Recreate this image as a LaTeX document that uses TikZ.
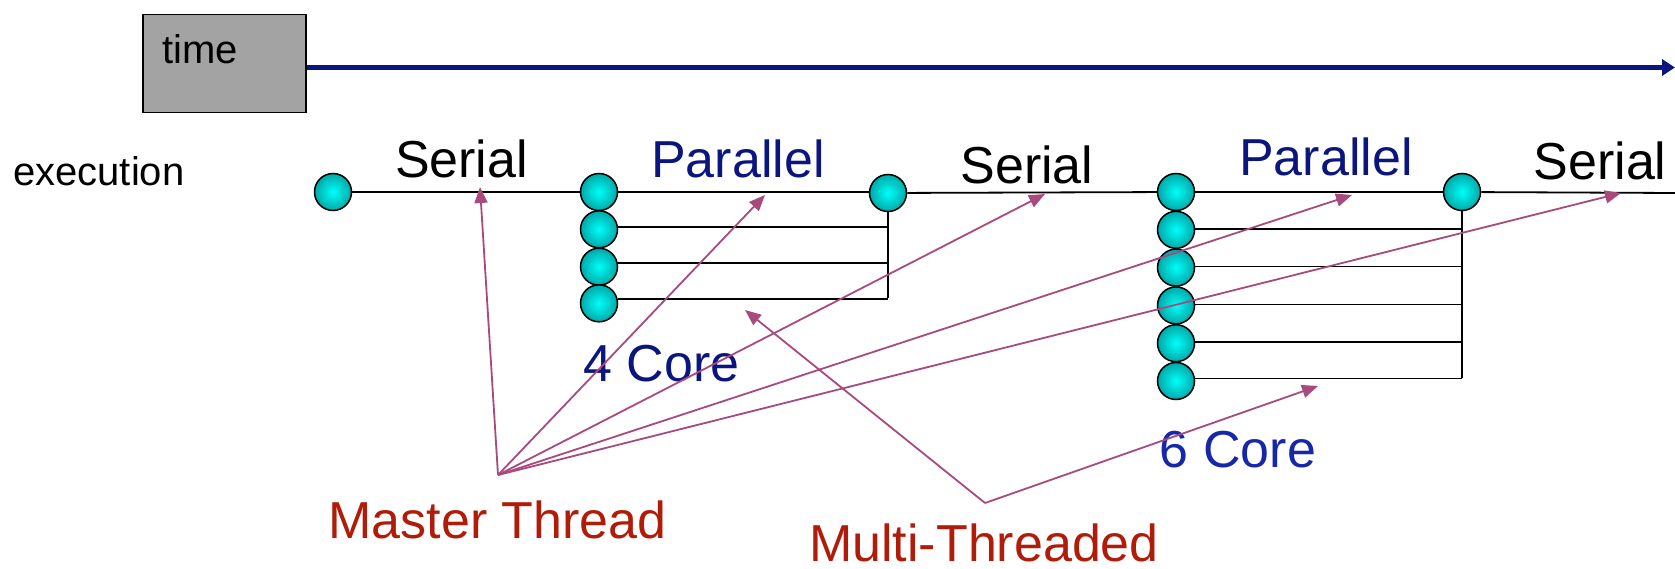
\documentclass[tikz,border=0pt]{standalone}
\usepackage{fontspec}
\setmainfont{Liberation Sans}
\usetikzlibrary{arrows.meta}
\definecolor{navy}{RGB}{10,22,125}
\definecolor{coreblue}{RGB}{22,40,168}
\definecolor{pointer}{RGB}{168,74,124}
\definecolor{labelred}{RGB}{176,28,10}
\definecolor{boxgray}{RGB}{163,163,163}
\definecolor{threadin}{RGB}{0,255,250}
\definecolor{threadout}{RGB}{0,168,168}
\tikzset{
  thread/.style={circle, draw=black, line width=1.5pt, minimum size=37pt, inner sep=0pt,
    inner color=threadin, outer color=threadout},
  wire/.style={draw=black, line width=1.8pt},
  pointer/.style={draw=pointer, line width=1.8pt, -{Triangle[length=16pt,width=13pt]}},
  big/.style={font=\fontsize{52}{60}\selectfont, inner sep=0pt, anchor=base},
  small/.style={font=\fontsize{40}{46}\selectfont, inner sep=0pt, anchor=base west},
}
\begin{document}
\begin{tikzpicture}[x=1pt,y=-1pt]
\useasboundingbox (0,0) rectangle (1675,569);

% time axis
\node[draw=black, line width=1.5pt, fill=boxgray, minimum width=163pt, minimum height=98pt,
  inner sep=0pt, anchor=north west] (timebox) at (142,14) {};
\node[small] (timelbl) at (162,64) {time};
\coordinate (timeend) at (1675,67.5);
\draw[navy, line width=5pt, -{Triangle[length=13pt,width=16pt]}] (timebox.east |- timeend) -- (timeend);

\node[small] (exec) at (13,186) {execution};

% threads
\node[thread] (s0) at (333,192) {};
\foreach \i/\y in {a/192,b/229.3,c/266.7,d/303.3} {
  \node[thread] (p1\i) at (599,\y) {};
}
\node[thread] (j1) at (888,193) {};
\foreach \i/\y in {a/192,b/229.8,c/267.6,d/305.4,e/343.2,f/381} {
  \node[thread] (p2\i) at (1176,\y) {};
}
\node[thread] (j2) at (1462,192) {};
\coordinate (send) at (1675,193);

% serial and master-thread wires
\draw[wire] (s0) -- (p1a);
\draw[wire] (p1a.east) -- (p1a.east -| j1.west);
\draw[wire] (j1) -- (p2a);
\draw[wire] (p2a) -- (j2);
\draw[wire] (j2) -- (send);

% worker wires, 4 core
\foreach \i/\dy in {b/2,c/3.3,d/4.4} {
  \draw[wire] ([yshift=\dy pt]p1\i.east) -- ([yshift=\dy pt]p1\i -| j1);
}
\draw[wire] (j1.south) -- ([yshift=5.3pt]p1d -| j1);

% worker wires, 6 core
\foreach \i/\dy in {b/1,c/1,d/1,e/1,f/2.5} {
  \draw[wire] ([yshift=\dy pt]p2\i.east) -- ([yshift=\dy pt]p2\i -| j2);
}
\draw[wire] (j2.south) -- ([yshift=3.4pt]p2f -| j2);

% labels
\node[big] (ser1) at (461.5,178) {Serial};
\node[big, text=navy] (par1) at (738,178) {Parallel};
\node[big] (ser2) at (1027,184) {Serial};
\node[big, text=navy] (par2) at (1326,176) {Parallel};
\node[big] (ser3) at (1600,180) {Serial};
\node[big, text=navy] (core4) at (661.5,381) {4 Core};
\node[big, text=coreblue] (core6) at (1238,467) {6 Core};
\node[big, text=labelred] (master) at (497.5,538) {Master Thread};
\node[big, text=labelred, text depth=0pt] (multi) at (984,561) {Multi-Threaded};

% master thread pointers
\coordinate (mt) at (498,475);
\coordinate (mt1) at (480,187);
\coordinate (mt2) at (765,195);
\coordinate (mt3) at (1045,194);
\coordinate (mt4) at (1352,195);
\coordinate (mt5) at (1621,193);
\foreach \t in {mt1,mt2,mt3,mt4,mt5} {
  \draw[pointer] (mt) -- (\t);
}

% multi-threaded pointers
\coordinate (mm) at (985,503);
\coordinate (mm1) at (745,310);
\coordinate (mm2) at (1318,386);
\draw[pointer] (mm) -- (mm1);
\draw[pointer] (mm) -- (mm2);
\end{tikzpicture}
\end{document}
